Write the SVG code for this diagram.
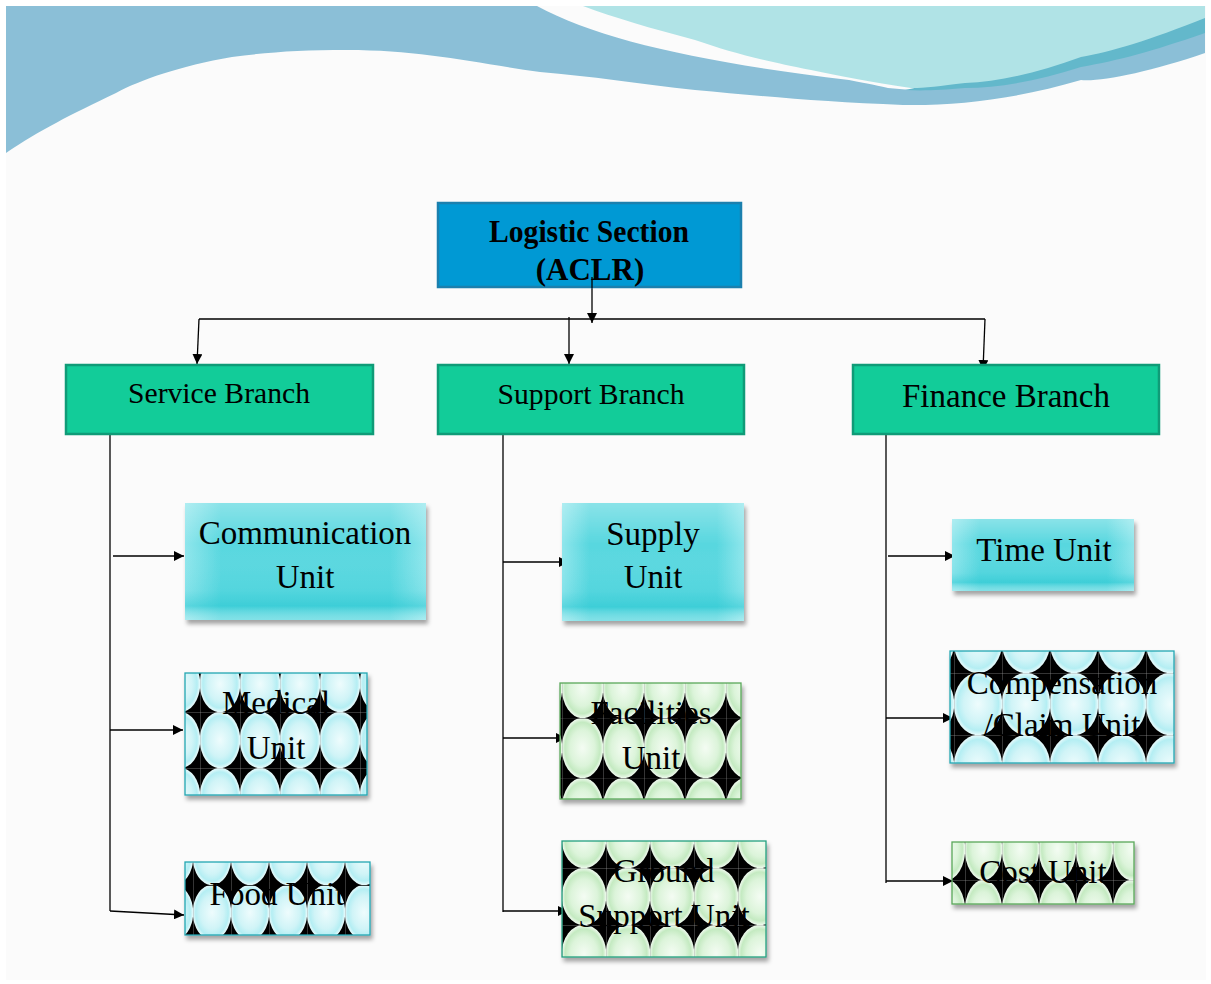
<svg xmlns="http://www.w3.org/2000/svg" width="1211" height="984" viewBox="0 0 1211 984">
  <style>
    .t { font-family: "Liberation Serif", "Times New Roman", serif; fill: #000; text-anchor: middle; }
    .root { font-size: 31px; font-weight: bold; }
    .br { font-size: 30px; }
    .un { font-size: 33px; }
    .conn { stroke: #000; stroke-width: 1.3; fill: none; }
    .tile { fill: none; stroke: #9a9a9a; stroke-width: 0.7; }
  </style>
  <defs>
    <marker id="arr" viewBox="0 0 10 10" refX="10" refY="5" markerWidth="10" markerHeight="10" markerUnits="userSpaceOnUse" orient="auto">
      <path d="M0,0 L10,5 L0,10 Z" fill="#000"/>
    </marker>
    <filter id="shadow" x="-10%" y="-10%" width="125%" height="130%">
      <feDropShadow dx="2" dy="4" stdDeviation="2" flood-color="#000" flood-opacity="0.35"/>
    </filter>
    <linearGradient id="cyH" x1="0" y1="0" x2="1" y2="0">
      <stop offset="0" stop-color="#8fe6ec"/>
      <stop offset="0.15" stop-color="#58d7df"/>
      <stop offset="0.85" stop-color="#58d7df"/>
      <stop offset="1" stop-color="#8fe6ec"/>
    </linearGradient>
    <linearGradient id="cyV" x1="0" y1="0" x2="0" y2="1">
      <stop offset="0" stop-color="#ffffff" stop-opacity="0.3"/>
      <stop offset="0.35" stop-color="#ffffff" stop-opacity="0"/>
      <stop offset="0.75" stop-color="#20c4cf" stop-opacity="0.1"/>
      <stop offset="0.88" stop-color="#1cc3ce" stop-opacity="0.45"/>
      <stop offset="1" stop-color="#ffffff" stop-opacity="0.25"/>
    </linearGradient>
    <radialGradient id="gCy">
      <stop offset="0" stop-color="#eefcfd"/>
      <stop offset="0.6" stop-color="#d0f4f7"/>
      <stop offset="0.85" stop-color="#b4eef3"/>
      <stop offset="1" stop-color="#eafbfc"/>
    </radialGradient>
    <radialGradient id="gGr">
      <stop offset="0" stop-color="#f4fcf3"/>
      <stop offset="0.6" stop-color="#dcf4da"/>
      <stop offset="0.85" stop-color="#c4eac1"/>
      <stop offset="1" stop-color="#f0faef"/>
    </radialGradient>
    <!-- star tile patterns: black ground, light ellipse per cell, thin grid on the cell edges -->
    <pattern id="pMed" patternUnits="userSpaceOnUse" x="200" y="712" width="40" height="56">
      <rect width="40" height="56" fill="#000"/>
      <ellipse cx="20" cy="28" rx="20.2" ry="28.2" fill="url(#gCy)"/>
      <path class="tile" d="M0,0H40M0,0V56"/>
    </pattern>
    <pattern id="pFood" patternUnits="userSpaceOnUse" x="193" y="885" width="38" height="55">
      <rect width="38" height="55" fill="#000"/>
      <ellipse cx="19" cy="27.5" rx="19.2" ry="27.7" fill="url(#gCy)"/>
      <path d="M0,0H38" stroke="#000" stroke-width="1.3"/>
      <path class="tile" d="M0,0V55"/>
    </pattern>
    <pattern id="pFac" patternUnits="userSpaceOnUse" x="562" y="718" width="41" height="60">
      <rect width="41" height="60" fill="#000"/>
      <ellipse cx="20.5" cy="30" rx="20.7" ry="30.2" fill="url(#gGr)"/>
      <path d="M0,0H41" stroke="#333" stroke-width="1"/>
      <path class="tile" d="M0,0V60"/>
    </pattern>
    <pattern id="pGrd" patternUnits="userSpaceOnUse" x="562" y="868" width="44" height="57">
      <rect width="44" height="57" fill="#000"/>
      <ellipse cx="22" cy="28.5" rx="22.2" ry="28.7" fill="url(#gGr)"/>
      <path class="tile" d="M0,0H44M0,0V57"/>
    </pattern>
    <pattern id="pCmp" patternUnits="userSpaceOnUse" x="1002" y="673" width="48" height="62">
      <rect width="48" height="62" fill="#000"/>
      <ellipse cx="24" cy="31" rx="24.2" ry="31.2" fill="url(#gCy)"/>
      <path class="tile" d="M0,0H48M0,0V62"/>
    </pattern>
    <pattern id="pCost" patternUnits="userSpaceOnUse" x="965" y="880" width="37" height="62">
      <rect width="37" height="62" fill="#000"/>
      <ellipse cx="18.5" cy="31" rx="18.7" ry="31.2" fill="url(#gGr)"/>
      <path class="tile" d="M0,0H37M0,0V62"/>
    </pattern>
  </defs>

  <!-- page -->
  <rect width="1211" height="984" fill="#ffffff"/>
  <rect x="6" y="6" width="1200" height="974" fill="#fbfbfb"/>

  <!-- header waves -->
  <g id="header">
    <path d="M6,6 H537 C600,40 700,62 849,80 C870,84 880,86 888,88 L911,90 L1205,6 V53 C1150,72 1100,82 1081,80 C1020,98 960,106 903,105 C820,102 760,96 695,90 C640,84 590,76 540,72 C470,62 420,50 347,50 C300,50 270,52 232,57 C180,66 140,80 116,93 C70,115 40,130 6,153 Z" fill="#8bbfd7"/>
    <path d="M905,90 C925,86 940,82 965,79 C1000,77 1040,68 1081,53 C1110,47 1150,35 1205,12 V33 C1150,52 1120,60 1081,67 C1040,80 1000,88 965,88 C940,90 925,91 905,90 Z" fill="#63b8cb"/>
    <path d="M583,6 H1205 V18 C1150,40 1110,52 1081,57 C1040,72 1000,82 965,83 C940,86 925,88 911,88 C870,82 840,76 811,70 C760,60 730,52 695,40 C650,28 615,18 583,6 Z" fill="#b0e3e6"/>
  </g>

  <!-- connectors -->
  <g id="connectors">
    <line class="conn" x1="592" y1="277" x2="592" y2="323" marker-end="url(#arr)"/>
    <line class="conn" x1="199" y1="319" x2="985" y2="319"/>
    <line class="conn" x1="199" y1="319" x2="197" y2="364" marker-end="url(#arr)"/>
    <line class="conn" x1="569" y1="317" x2="569" y2="364" marker-end="url(#arr)"/>
    <line class="conn" x1="985" y1="319" x2="983" y2="370" marker-end="url(#arr)"/>

    <polyline class="conn" points="110,434 110,911"/>
    <line class="conn" x1="113" y1="556" x2="184" y2="556" marker-end="url(#arr)"/>
    <line class="conn" x1="110" y1="730" x2="183" y2="730" marker-end="url(#arr)"/>
    <line class="conn" x1="110" y1="911" x2="184" y2="915" marker-end="url(#arr)"/>

    <polyline class="conn" points="503,434 503,912"/>
    <line class="conn" x1="503" y1="562" x2="569" y2="562" marker-end="url(#arr)"/>
    <line class="conn" x1="503" y1="738" x2="566" y2="738" marker-end="url(#arr)"/>
    <line class="conn" x1="503" y1="911" x2="568" y2="911" marker-end="url(#arr)"/>

    <polyline class="conn" points="886,434 886,883"/>
    <line class="conn" x1="888" y1="556" x2="955" y2="556" marker-end="url(#arr)"/>
    <line class="conn" x1="886" y1="718" x2="953" y2="718" marker-end="url(#arr)"/>
    <line class="conn" x1="886" y1="881" x2="953" y2="881" marker-end="url(#arr)"/>
  </g>

  <!-- root -->
  <g id="logistic-section">
    <rect x="438" y="203" width="303" height="84" fill="#0099d4" stroke="#1b80ae" stroke-width="2.5"/>
    <text class="t root" x="589" y="242" textLength="200" lengthAdjust="spacingAndGlyphs">Logistic Section</text>
    <text class="t root" x="590" y="280">(ACLR)</text>
    <line class="conn" x1="592" y1="277" x2="592" y2="288"/>
  </g>

  <!-- branches -->
  <g id="service-branch">
    <rect x="66" y="365" width="307" height="69" fill="#12cc99" stroke="#0f9b77" stroke-width="2.5"/>
    <text class="t br" x="219" y="403" textLength="182" lengthAdjust="spacingAndGlyphs">Service Branch</text>
  </g>
  <g id="support-branch">
    <rect x="438" y="365" width="306" height="69" fill="#12cc99" stroke="#0f9b77" stroke-width="2.5"/>
    <text class="t br" x="591" y="404" textLength="187" lengthAdjust="spacingAndGlyphs">Support Branch</text>
  </g>
  <g id="finance-branch">
    <rect x="853" y="365" width="306" height="69" fill="#12cc99" stroke="#0f9b77" stroke-width="2.5"/>
    <text class="t un" x="1006" y="407">Finance Branch</text>
  </g>

  <!-- service units -->
  <g id="communication-unit">
    <g filter="url(#shadow)">
      <rect x="185" y="503" width="241" height="117" fill="url(#cyH)"/>
      <rect x="185" y="503" width="241" height="117" fill="url(#cyV)"/>
    </g>
    <text class="t un" x="305" y="544">Communication</text>
    <text class="t un" x="305" y="588">Unit</text>
  </g>
  <g id="medical-unit">
    <rect x="185" y="673" width="182" height="122" fill="url(#pMed)" stroke="#22a7b2" stroke-width="1.3" filter="url(#shadow)"/>
    <text class="t un" x="276" y="714">Medical</text>
    <text class="t un" x="276" y="759">Unit</text>
  </g>
  <g id="food-unit">
    <rect x="185" y="862" width="185" height="73" fill="url(#pFood)" stroke="#22a7b2" stroke-width="1.3" filter="url(#shadow)"/>
    <text class="t un" x="277" y="905">Food Unit</text>
  </g>

  <!-- support units -->
  <g id="supply-unit">
    <g filter="url(#shadow)">
      <rect x="562" y="503" width="182" height="118" fill="url(#cyH)"/>
      <rect x="562" y="503" width="182" height="118" fill="url(#cyV)"/>
    </g>
    <text class="t un" x="653" y="545">Supply</text>
    <text class="t un" x="653" y="588">Unit</text>
  </g>
  <g id="facilities-unit">
    <rect x="560" y="683" width="181" height="116" fill="url(#pFac)" stroke="#5aa85a" stroke-width="1.3" filter="url(#shadow)"/>
    <text class="t un" x="651" y="724">Facilities</text>
    <text class="t un" x="651" y="769">Unit</text>
  </g>
  <g id="ground-support-unit">
    <rect x="562" y="841" width="204" height="116" fill="url(#pGrd)" stroke="#22a080" stroke-width="1.3" filter="url(#shadow)"/>
    <text class="t un" x="664" y="882">Ground</text>
    <text class="t un" x="664" y="927">Support Unit</text>
  </g>

  <!-- finance units -->
  <g id="time-unit">
    <g filter="url(#shadow)">
      <rect x="952" y="519" width="182" height="72" fill="url(#cyH)"/>
      <rect x="952" y="519" width="182" height="72" fill="url(#cyV)"/>
    </g>
    <text class="t un" x="1044" y="561">Time Unit</text>
  </g>
  <g id="compensation-claim-unit">
    <rect x="950" y="651" width="224" height="112" fill="url(#pCmp)" stroke="#22a7b2" stroke-width="1.3" filter="url(#shadow)"/>
    <text class="t un" x="1062" y="694">Compensation</text>
    <text class="t un" x="1062" y="736">/Claim Unit</text>
  </g>
  <g id="cost-unit">
    <rect x="952" y="842" width="182" height="62" fill="url(#pCost)" stroke="#5aa85a" stroke-width="1.3" filter="url(#shadow)"/>
    <text class="t un" x="1043" y="883">Cost Unit</text>
  </g>
</svg>
